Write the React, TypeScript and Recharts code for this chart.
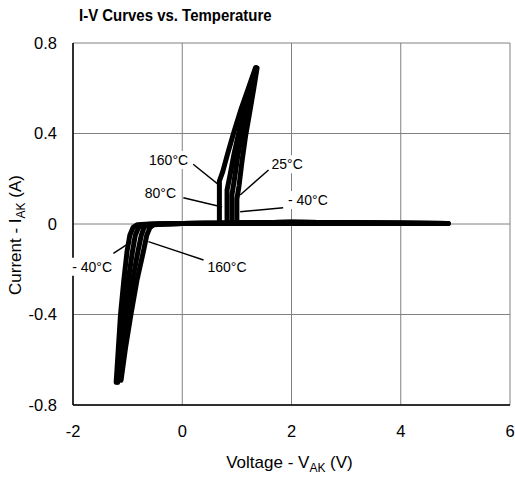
import { LineChart, Line, XAxis, YAxis, CartesianGrid, ReferenceLine, ReferenceDot } from "recharts";

// I-V curves of a thyristor at four temperatures
const xTicks = [-2, 0, 2, 4, 6];
const yTicks = [-0.8, -0.4, 0, 0.4, 0.8];

const temps = ["-40°C", "25°C", "80°C", "160°C"];

const vM40 = [-1.21, -1.17, -1.13, -1.07, -1.01, -0.96, -0.9, -0.82, -0.6, 0, 1.0, 2.0, 3.0, 4.87, 1.0, 1.0, 1.04, 1.09, 1.16, 1.24, 1.31, 1.37];
const iM40 = [-0.7, -0.55, -0.4, -0.25, -0.12, -0.05, -0.015, -0.003, 0, 0.002, 0.004, 0.008, 0.005, 0.002, 0.003, 0.11, 0.17, 0.27, 0.39, 0.5, 0.6, 0.69];

const v25 = [-1.18, -1.13, -1.07, -0.99, -0.91, -0.86, -0.8, -0.72, -0.5, 0, 0.91, 2.0, 3.0, 4.87, 0.91, 0.91, 0.95, 1.01, 1.09, 1.19, 1.28, 1.36];
const i25 = [-0.7, -0.55, -0.4, -0.25, -0.12, -0.05, -0.015, -0.003, 0, 0.002, 0.004, 0.008, 0.005, 0.002, 0.003, 0.13, 0.19, 0.29, 0.4, 0.51, 0.6, 0.69];

const v80 = [-1.15, -1.08, -1.0, -0.91, -0.81, -0.75, -0.7, -0.62, -0.4, 0, 0.82, 2.0, 3.0, 4.87, 0.82, 0.82, 0.87, 0.94, 1.04, 1.15, 1.26, 1.35];
const i80 = [-0.69, -0.55, -0.4, -0.25, -0.12, -0.05, -0.015, -0.003, 0, 0.002, 0.004, 0.008, 0.005, 0.002, 0.003, 0.15, 0.21, 0.3, 0.41, 0.51, 0.6, 0.69];

const v160 = [-1.12, -1.04, -0.94, -0.83, -0.71, -0.65, -0.59, -0.52, -0.3, 0, 0.68, 2.0, 3.0, 4.87, 0.68, 0.68, 0.74, 0.83, 0.95, 1.08, 1.21, 1.34];
const i160 = [-0.69, -0.55, -0.4, -0.25, -0.12, -0.05, -0.015, -0.003, 0, 0.002, 0.004, 0.008, 0.005, 0.002, 0.003, 0.19, 0.23, 0.31, 0.41, 0.51, 0.6, 0.69];

// callout labels and their leader lines (data coords)
const labelText = ["160°C", "80°C", "25°C", "- 40°C", "- 40°C", "160°C"];
const labelV = [-0.25, -0.4, 1.92, 2.3, -1.65, 0.82];
const labelI = [0.283, 0.136, 0.264, 0.106, -0.189, -0.189];
const leadV1 = [0.2, 0.02, 1.58, 1.85, -1.26, 0.39];
const leadI1 = [0.264, 0.116, 0.239, 0.072, -0.13, -0.159];
const leadV2 = [0.71, 0.73, 1.06, 1.06, -0.93, -0.62];
const leadI2 = [0.165, 0.075, 0.128, 0.054, -0.078, -0.078];

const pair = (v: number[], c: number[]) => v.map((x, k) => ({ v: x, i: c[k] }));
const curves = [pair(vM40, iM40), pair(v25, i25), pair(v80, i80), pair(v160, i160)];

const FONT = "'Liberation Sans', Arial, sans-serif";

const CalloutLabel = ({ cx, cy, text }: any) => {
  const w = text.length * 7.8 + 2;
  return (
    <g>
      <rect x={cx - w / 2} y={cy - 9} width={w} height={18} fill="#fff" />
      <text x={cx} y={cy} textAnchor="middle" dominantBaseline="central" fontSize={14} fontFamily={FONT} fill="#000">
        {text}
      </text>
    </g>
  );
};

const XTitle = ({ viewBox }: any) => {
  const cx = viewBox.x + viewBox.width / 2 - 2;
  return (
    <text x={cx} y={viewBox.y + 63} textAnchor="middle" fontSize={17} fontFamily={FONT} fill="#000">
      Voltage - V<tspan fontSize={12} dy={4}>AK</tspan><tspan dy={-4}> (V)</tspan>
    </text>
  );
};

const YTitle = () => {
  const cy = 235;
  const x = 21;
  return (
    <text x={x} y={cy} transform={`rotate(-90, ${x}, ${cy})`} textAnchor="middle" fontSize={17} fontFamily={FONT} fill="#000">
      Current - I<tspan fontSize={12} dy={4}>AK</tspan><tspan dy={-4}> (A)</tspan>
    </text>
  );
};

export default function App() {
  return (
    <div style={{ position: "absolute", left: 0, top: 0, width: 515, height: 479, background: "#fff" }}>
      <div
        style={{
          position: "absolute",
          left: 79,
          top: 5,
          fontFamily: FONT,
          fontWeight: "bold",
          fontSize: 17,
          lineHeight: "22px",
          color: "#000",
          whiteSpace: "nowrap",
          transform: "scaleX(0.88)",
          transformOrigin: "left center",
        }}
      >
        I-V Curves vs. Temperature
      </div>
      <LineChart width={515} height={479} margin={{ top: 43, right: 5, left: 0, bottom: 0 }}>
        <CartesianGrid stroke="#808080" strokeWidth={1} />
        <XAxis
          type="number"
          dataKey="v"
          domain={[-2, 6]}
          ticks={xTicks}
          height={74}
          tickLine={false}
          tickSize={6}
          tickMargin={14}
          axisLine={{ stroke: "#000", strokeWidth: 1.5 }}
          tick={{ fontSize: 16.5, fontFamily: FONT, fill: "#000" }}
          label={{ content: (p: any) => <XTitle {...p} /> }}
        />
        <YAxis
          type="number"
          dataKey="i"
          domain={[-0.8, 0.8]}
          ticks={yTicks}
          width={73}
          tickLine={false}
          tickSize={6}
          tickMargin={10}
          axisLine={{ stroke: "#000", strokeWidth: 1.5 }}
          tick={{ fontSize: 16.5, fontFamily: FONT, fill: "#000" }}
          label={{ content: () => <YTitle /> }}
        />
        {curves.map((d, k) => (
          <Line
            key={temps[k]}
            data={d}
            dataKey="i"
            name={temps[k]}
            type="linear"
            stroke="#000"
            strokeWidth={5}
            strokeLinejoin="round"
            strokeLinecap="round"
            dot={false}
            isAnimationActive={false}
          />
        ))}
        {labelText.map((t, k) => (
          <ReferenceLine
            key={"lead" + k}
            segment={[
              { x: leadV1[k], y: leadI1[k] },
              { x: leadV2[k], y: leadI2[k] },
            ]}
            stroke="#000"
            strokeWidth={1.4}
            ifOverflow="visible"
          />
        ))}
        {labelText.map((t, k) => (
          <ReferenceDot
            key={"lab" + k}
            x={labelV[k]}
            y={labelI[k]}
            r={0}
            ifOverflow="visible"
            shape={(p: any) => <CalloutLabel cx={p.cx} cy={p.cy} text={t} />}
          />
        ))}
      </LineChart>
    </div>
  );
}
